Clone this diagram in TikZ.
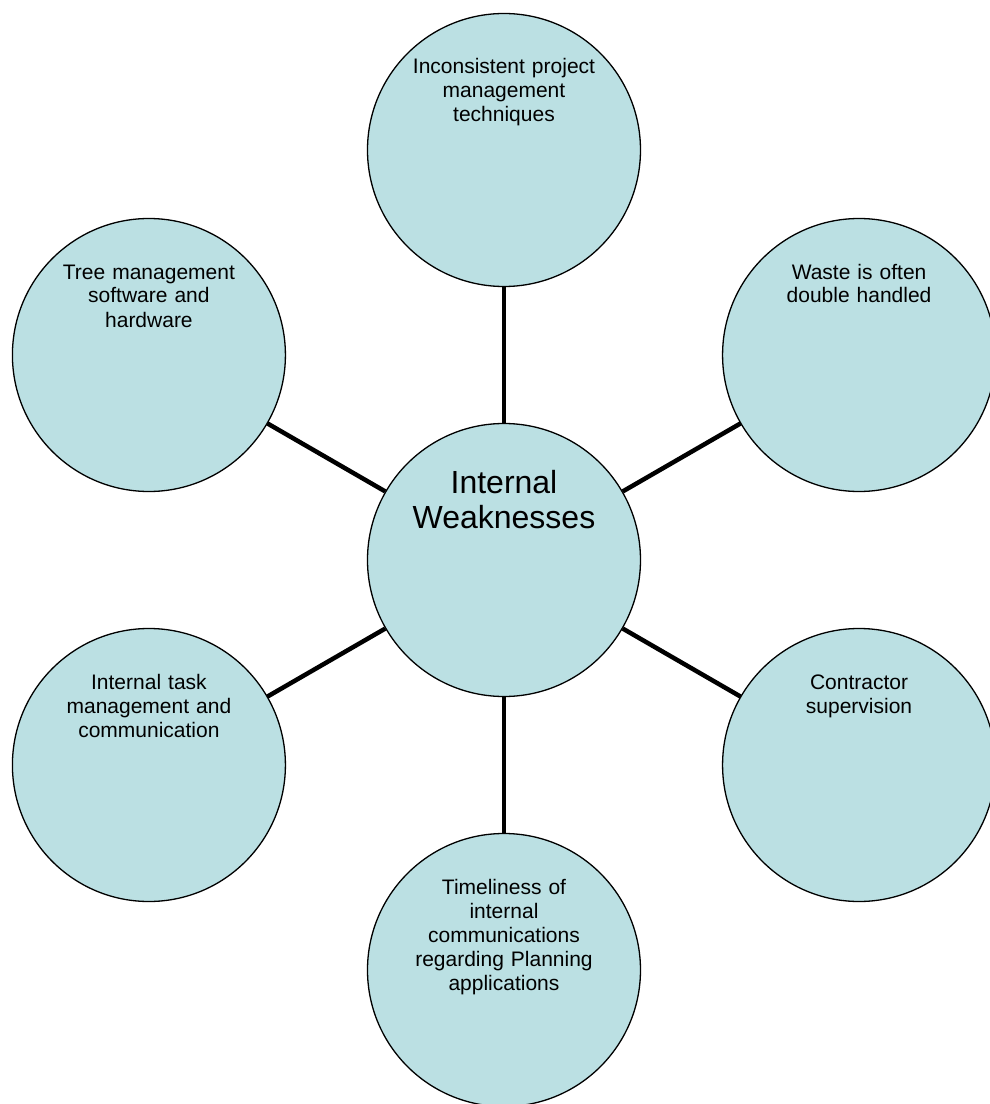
\documentclass[tikz,border=0pt]{standalone}
\usepackage{fontspec}
\setmainfont{Liberation Sans}
\usepackage{tikz}
\definecolor{bubblefill}{RGB}{187,224,227}

\begin{document}
\begin{tikzpicture}[x=1pt,y=1pt,
bubble/.style={%
circle,
draw,
line width=1.3pt,
fill=bubblefill,
inner sep=0pt,
minimum size=273pt
},
txt/.style={%
anchor=base,
align=center,
text width=250pt,
inner sep=0pt,
font=\fontsize{21}{24}\selectfont
},
hubtxt/.style={%
anchor=base,
align=center,
text width=250pt,
inner sep=0pt,
font=\fontsize{32}{35}\selectfont
},
spoke/.style={%
line width=4.5pt
},
]
\useasboundingbox (-504,-544) rectangle (485,560);
%% Hub
\node[bubble] (hub) at (0,0) {};
\node[hubtxt] (hubtext) at ([yshift=67pt]hub.center) {Internal\\Weaknesses};
%% Outer circles
\foreach \ang/\nm/\txt in {%
90/projmgmt/{Inconsistent project\\management\\techniques},
30/waste/{Waste is often\\double handled},
-30/contractor/{Contractor\\supervision},
-90/timeliness/{Timeliness of\\internal\\communications\\regarding Planning\\applications},
-150/taskmgmt/{Internal task\\management and\\communication},
150/treemgmt/{Tree management\\software and\\hardware}}{%
\draw[spoke] (hub) -- (\ang:410);
\node[bubble] (\nm) at (\ang:410) {};
\node[txt] (\nm-text) at ([yshift=76pt]\nm.center) {\txt};
}
\end{tikzpicture}
\end{document}
